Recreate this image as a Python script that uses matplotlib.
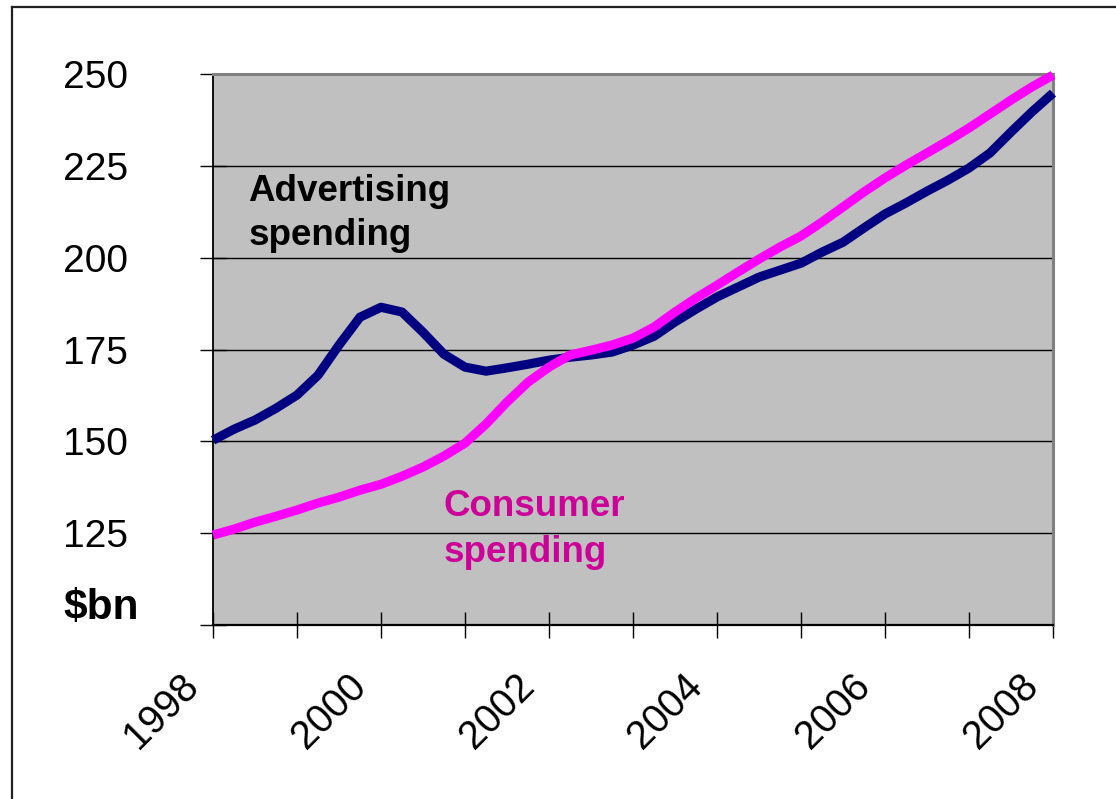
import numpy as np
import matplotlib
matplotlib.use("Agg")
import matplotlib.pyplot as plt
from matplotlib.lines import Line2D
from matplotlib.transforms import ScaledTranslation

plt.rcParams['font.family'] = ['Liberation Sans', 'DejaVu Sans']

# quarterly series, 1998 Q1 .. 2008 Q1, $bn
years = np.arange(41) / 4.0 + 1998
advertising = [150.3, 153.3, 155.8, 159.0, 162.6, 168.0, 176.2, 183.8, 186.5,
               185.2, 179.7, 173.7, 170.2, 169.1, 170.0, 171.0, 172.1, 172.9,
               173.5, 174.3, 176.2, 178.6, 182.5, 186.0, 189.3, 192.0, 194.7,
               196.6, 198.5, 201.5, 204.2, 208.1, 211.9, 214.9, 218.1, 221.1,
               224.4, 228.5, 234.2, 239.7, 244.8]
consumer = [124.5, 126.1, 128.0, 129.6, 131.3, 133.2, 134.8, 136.7, 138.3,
            140.5, 143.0, 146.0, 149.5, 154.7, 160.7, 166.1, 170.2, 173.5,
            174.8, 176.2, 178.1, 181.1, 185.2, 189.0, 192.5, 196.1, 199.6,
            202.9, 205.9, 209.7, 213.8, 217.9, 221.7, 225.2, 228.5, 231.8,
            235.3, 239.1, 242.9, 246.5, 249.7]

y_ticks = [100, 125, 150, 175, 200, 225, 250]
y_labels = ['', '125', '150', '175', '200', '225', '250']
x_ticks = list(range(1998, 2009))
x_labels = [str(y) if y % 2 == 0 else '' for y in x_ticks]

W, H = 1116, 799
fig = plt.figure(figsize=(W / 100, H / 100), dpi=100)
fig.patch.set_facecolor('white')

# outer frame (left and top edges visible)
fig.add_artist(Line2D([12 / W, 12 / W], [0, 1 - 7 / H], transform=fig.transFigure,
                      color='#202020', lw=1.6))
fig.add_artist(Line2D([12 / W, 1], [1 - 7 / H, 1 - 7 / H], transform=fig.transFigure,
                      color='#202020', lw=1.6))

ax = fig.add_axes([213 / W, 1 - 625 / H, 840 / W, 551 / H])
ax.set_facecolor('#C0C0C0')

for v in y_ticks[1:-1]:
    ax.axhline(v, color='#000000', lw=1.0, zorder=1)

ax.plot(years, advertising, color='#000080', lw=6.6, solid_joinstyle='round',
        solid_capstyle='butt', clip_on=False, zorder=3)
ax.plot(years, consumer, color='#FF00FF', lw=6.6, solid_joinstyle='round',
        solid_capstyle='butt', clip_on=False, zorder=4)

ax.set_xlim(1998, 2008)
ax.set_ylim(100, 250)

for s in ['top', 'right']:
    ax.spines[s].set_color('#808080')
    ax.spines[s].set_linewidth(2.2)
ax.spines['left'].set_color('#000000')
ax.spines['left'].set_linewidth(1.3)
ax.spines['bottom'].set_color('#000000')
ax.spines['bottom'].set_linewidth(1.6)

ax.set_yticks(y_ticks)
ax.set_yticklabels(y_labels)
ax.set_xticks(x_ticks)
ax.set_xticklabels(x_labels)
ax.tick_params(axis='y', direction='inout', length=18.7, width=1, pad=51.8,
               labelsize=28)
ax.tick_params(axis='x', direction='inout', length=18.7, width=1, pad=36,
               labelsize=28.5)

shift = ScaledTranslation(-13 / 100, 0, fig.dpi_scale_trans)
for lab in ax.get_xticklabels():
    lab.set_rotation(45)
    lab.set_ha('right')
    lab.set_va('baseline')
    lab.set_rotation_mode('anchor')
    lab.set_transform(lab.get_transform() + shift)

# unit label in place of the bottom tick
ax.annotate('$bn', xy=(0, 100), xycoords=('axes fraction', 'data'),
            xytext=(-53, -2.5), textcoords='offset points', ha='right', va='bottom',
            fontsize=30.5, fontweight='bold')

ax.text(1998.42, 222.8, 'Advertising\nspending', ha='left', va='top',
        fontsize=26.5, fontweight='bold', color='black', linespacing=1.35, zorder=5)
ax.text(2000.74, 137.0, 'Consumer\nspending', ha='left', va='top',
        fontsize=26.5, fontweight='bold', color='#CC0099', linespacing=1.4, zorder=5)

fig.savefig('out.png', dpi=100)
